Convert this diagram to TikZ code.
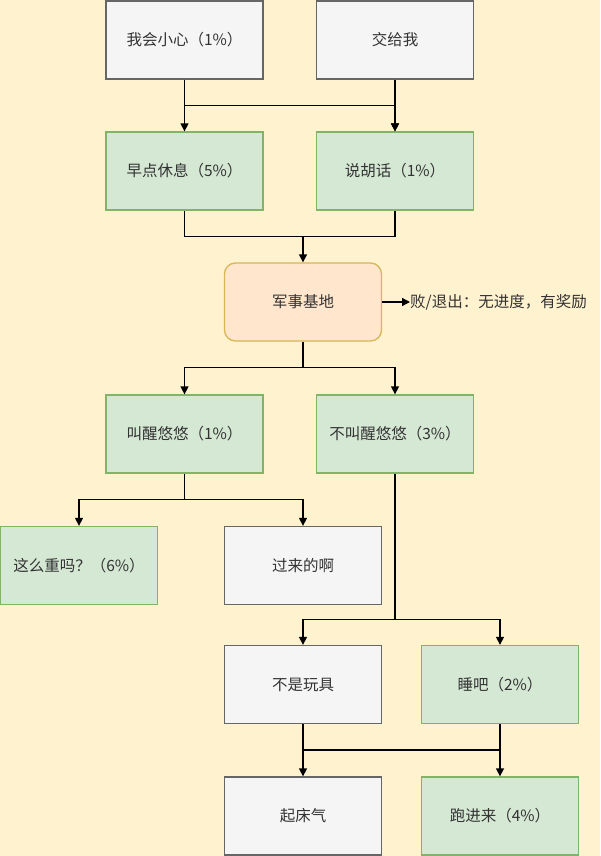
\documentclass[tikz,border=0pt]{standalone}
\usepackage{fontspec}
\newfontfamily\cjk{Noto Sans CJK SC}
\usetikzlibrary{arrows.meta,calc}
\definecolor{bg}{HTML}{FFF2CF}
\definecolor{grayfill}{HTML}{F5F5F5}
\definecolor{graydraw}{HTML}{666666}
\definecolor{greenfill}{HTML}{D5E8D4}
\definecolor{greendraw}{HTML}{82B366}
\definecolor{orangefill}{HTML}{FFE6CC}
\definecolor{orangedraw}{HTML}{D6B656}
\definecolor{txt}{HTML}{333333}
\tikzset{
  box/.style={draw, line width=1.3pt, minimum width=157pt, minimum height=78pt,
    inner sep=0pt, font=\cjk\fontsize{15.5}{18}\selectfont, text=txt},
  graybox/.style={box, fill=grayfill, draw=graydraw},
  greenbox/.style={box, fill=greenfill, draw=greendraw},
  basebox/.style={box, fill=orangefill, draw=orangedraw, rounded corners=11pt},
  ln/.style={draw=black, line width=1.4pt},
  arr/.style={ln, -{Triangle[length=8pt,width=8pt]}}
}
\begin{document}
\begin{tikzpicture}[x=1pt,y=-1pt]
\useasboundingbox (0,0) rectangle (600,856);
\fill[bg] (0,0) rectangle (600,856);
\node[graybox] (a) at (184.5,40) {我会小心（1\%）};
\node[graybox] (b) at (395,40) {交给我};
\node[greenbox] (c) at (184.5,171) {早点休息（5\%）};
\node[greenbox] (d) at (395,171) {说胡话（1\%）};
\node[basebox] (e) at (303,302) {军事基地};
\node[anchor=west, inner sep=0pt, font=\cjk\fontsize{15.5}{18}\selectfont, text=txt] (note) at (410,302) {败/退出：无进度，有奖励};
\node[greenbox] (f) at (184.5,434) {叫醒悠悠（1\%）};
\node[greenbox] (g) at (395,434) {不叫醒悠悠（3\%）};
\node[greenbox] (h) at (79,565.5) {这么重吗？（6\%）};
\node[graybox] (i) at (303,565.5) {过来的啊};
\node[graybox] (j) at (303,684.5) {不是玩具};
\node[greenbox] (k) at (500,684.5) {睡吧（2\%）};
\node[graybox] (l) at (303,816) {起床气};
\node[greenbox] (m) at (500,816) {跑进来（4\%）};
% a,b -> c,d
\draw[ln] (a.south) -- ++(0,26) coordinate (j1);
\draw[arr] (j1) -- (c.north);
\draw[arr] (j1) -| (d.north);
\draw[arr] (b.south) -- (d.north);
% c,d -> e
\draw[ln] (c.south) -- ++(0,26) coordinate (j2) -| (d.south);
\draw[arr] (j2 -| e.north) -- (e.north);
% e -> note
\draw[arr] (e.east) -- (note.west);
% e -> f,g
\draw[ln] (e.south) -- ++(0,26) coordinate (j3);
\draw[arr] (j3) -| (f.north);
\draw[arr] (j3) -| (g.north);
% f -> h,i
\draw[ln] (f.south) -- ++(0,26) coordinate (j4);
\draw[arr] (j4) -| (h.north);
\draw[arr] (j4) -| (i.north);
% g -> j,k
\draw[ln] (g.south) -- ++(0,146) coordinate (j5);
\draw[arr] (j5) -| (j.north);
\draw[arr] (j5) -| (k.north);
% j,k -> l,m
\draw[ln] (j.south) -- ++(0,26) coordinate (j6) -| (k.south);
\draw[arr] (j6) -- (l.north);
\draw[arr] (j6 -| k.south) -- (m.north);
\end{tikzpicture}
\end{document}
